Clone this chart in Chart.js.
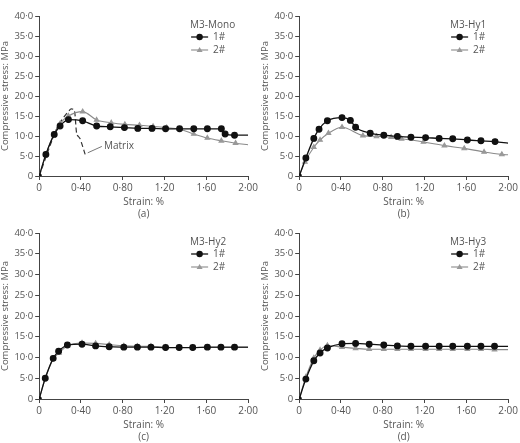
<!DOCTYPE html>
<html>
<head>
<meta charset="utf-8">
<script src="https://cdn.jsdelivr.net/npm/chart.js@4.4.1/dist/chart.umd.min.js"></script>
<style>
  body { margin: 0; background: #fff; }
  .panel { position: absolute; width: 260px; }
  .panel canvas { display: block; }
</style>
</head>
<body>
<div class="panel" style="left:0;top:0;height:220px"><canvas id="ca"></canvas></div>
<div class="panel" style="left:260px;top:0;height:220px"><canvas id="cb"></canvas></div>
<div class="panel" style="left:0;top:220px;height:223px"><canvas id="cc"></canvas></div>
<div class="panel" style="left:260px;top:220px;height:223px"><canvas id="cd"></canvas></div>
<script>
// panel names and captions
var panelNames = ["M3-Mono", "M3-Hy1", "M3-Hy2", "M3-Hy3"];
var panelCaps = ["(a)", "(b)", "(c)", "(d)"];
var seriesLabels = ["1#", "2#"];

// (a) M3-Mono
var monoX1 = [0, 0.064, 0.144, 0.2, 0.28, 0.416, 0.55, 0.68, 0.816, 0.944, 1.08, 1.21, 1.344, 1.48, 1.61, 1.744, 1.78, 1.87, 2.0];
var monoY1 = [0, 5.4, 10.4, 12.5, 14.1, 13.8, 12.5, 12.3, 12.1, 11.9, 11.9, 11.8, 11.8, 11.8, 11.8, 11.8, 10.5, 10.2, 10.2];
var monoX2 = [0, 0.064, 0.14, 0.2, 0.28, 0.416, 0.55, 0.69, 0.82, 0.96, 1.09, 1.22, 1.344, 1.48, 1.61, 1.744, 1.88, 2.0];
var monoY2 = [0, 5.4, 10.4, 13.1, 15.0, 16.1, 14.0, 13.3, 12.9, 12.7, 12.4, 12.1, 11.7, 10.5, 9.5, 8.8, 8.2, 7.8];
var matrixX = [0, 0.176, 0.3, 0.336, 0.36, 0.39, 0.44];
var matrixY = [0, 12.3, 16.7, 16.5, 10.4, 9.4, 5.4];

// (b) M3-Hy1
var hy1X1 = [0, 0.064, 0.14, 0.19, 0.27, 0.41, 0.49, 0.54, 0.68, 0.81, 0.94, 1.07, 1.21, 1.34, 1.47, 1.61, 1.74, 1.875, 2.0];
var hy1Y1 = [0, 4.5, 9.4, 11.7, 13.8, 14.6, 13.9, 12.2, 10.7, 10.2, 9.9, 9.7, 9.6, 9.4, 9.3, 9.0, 8.8, 8.6, 8.2];
var hy1X2 = [0, 0.055, 0.14, 0.2, 0.28, 0.41, 0.61, 0.74, 0.88, 0.98, 1.19, 1.39, 1.58, 1.77, 1.94, 2.0];
var hy1Y2 = [0, 3.5, 7.2, 9.0, 10.7, 12.2, 10.1, 9.9, 9.7, 9.3, 8.5, 7.6, 6.9, 6.0, 5.4, 5.3];

// (c) M3-Hy2
var hy2X1 = [0, 0.058, 0.134, 0.186, 0.27, 0.41, 0.54, 0.67, 0.81, 0.94, 1.07, 1.21, 1.34, 1.47, 1.61, 1.74, 1.87, 2.0];
var hy2Y1 = [0, 5.0, 9.8, 11.5, 13.0, 13.2, 12.8, 12.6, 12.5, 12.5, 12.5, 12.4, 12.4, 12.4, 12.5, 12.5, 12.5, 12.5];
var hy2X2 = [0, 0.058, 0.134, 0.19, 0.27, 0.41, 0.54, 0.67, 0.81, 0.94, 1.07, 1.21, 1.34, 1.47, 1.61, 1.74, 1.87, 2.0];
var hy2Y2 = [0, 5.0, 9.6, 11.1, 12.8, 13.5, 13.4, 13.1, 12.8, 12.7, 12.7, 12.5, 12.4, 12.4, 12.4, 12.4, 12.4, 12.4];

// (d) M3-Hy3
var hy3X1 = [0, 0.064, 0.14, 0.2, 0.27, 0.41, 0.54, 0.67, 0.81, 0.94, 1.07, 1.21, 1.34, 1.47, 1.61, 1.74, 1.87, 2.0];
var hy3Y1 = [0, 4.8, 9.2, 11.1, 12.3, 13.3, 13.4, 13.2, 13.0, 12.8, 12.7, 12.7, 12.7, 12.7, 12.7, 12.7, 12.7, 12.7];
var hy3X2 = [0, 0.064, 0.14, 0.2, 0.27, 0.41, 0.54, 0.67, 0.81, 0.94, 1.07, 1.21, 1.34, 1.47, 1.61, 1.74, 1.87, 2.0];
var hy3Y2 = [0, 5.3, 9.9, 11.8, 12.9, 12.5, 12.2, 12.0, 12.0, 12.0, 12.0, 12.0, 12.0, 12.0, 12.0, 12.0, 11.9, 11.9];

var FONT = "'Open Sans', 'DejaVu Sans', sans-serif";
var TXT = "#555";

function pts(xs, ys) {
  return xs.map(function (x, i) { return { x: x, y: ys[i] }; });
}

// legend drawn inside the plot, top right
const innerLegend = {
  id: "innerLegend",
  afterDraw: (chart, args, opts) => {
    const { ctx, chartArea } = chart;
    const r = chartArea.right, t = chartArea.top;
    ctx.save();
    ctx.font = "10px " + FONT;
    ctx.fillStyle = TXT;
    ctx.textBaseline = "middle";
    ctx.fillText(opts.title, r - 58, t + 9);
    [0, 1].forEach(function (i) {
      const y = t + 21 + i * 13;
      const ds = chart.data.datasets[i];
      ctx.strokeStyle = ds.borderColor;
      ctx.lineWidth = ds.borderWidth;
      ctx.beginPath(); ctx.moveTo(r - 57, y); ctx.lineTo(r - 40, y); ctx.stroke();
      ctx.fillStyle = ds.pointBackgroundColor;
      ctx.beginPath();
      if (i === 0) { ctx.arc(r - 48.5, y, 3.2, 0, Math.PI * 2); }
      else { ctx.moveTo(r - 48.5, y - 3); ctx.lineTo(r - 45.5, y + 2); ctx.lineTo(r - 51.5, y + 2); ctx.closePath(); }
      ctx.fill();
      ctx.fillStyle = TXT;
      ctx.fillText(seriesLabels[i], r - 35, y);
    });
    // "Matrix" callout
    if (opts.matrix) {
      const xs = chart.scales.x, ys = chart.scales.y;
      ctx.strokeStyle = "#555"; ctx.lineWidth = 0.8;
      ctx.beginPath();
      ctx.moveTo(xs.getPixelForValue(0.465), ys.getPixelForValue(5.8));
      ctx.lineTo(xs.getPixelForValue(0.6), ys.getPixelForValue(7.4));
      ctx.stroke();
      ctx.fillStyle = TXT;
      ctx.fillText("Matrix", xs.getPixelForValue(0.62), ys.getPixelForValue(7.4));
    }
    ctx.restore();
  }
};

function makeChart(id, idx, s1, s2, extra) {
  var datasets = [
    {
      label: seriesLabels[0], data: s1,
      borderColor: "#111", borderWidth: 1.3, pointBackgroundColor: "#111",
      pointBorderColor: "#111", pointStyle: "circle",
      pointRadius: s1.map(function (p, i) { return i === 0 ? 2 : (i === s1.length - 1 ? 0 : 2.8); }),
      cubicInterpolationMode: "monotone", order: 1
    },
    {
      label: seriesLabels[1], data: s2,
      borderColor: "#8a8a8a", borderWidth: 1.1, pointBackgroundColor: "#999",
      pointBorderColor: "#999", pointStyle: "triangle",
      pointRadius: s2.map(function (p, i) { return (i === 0 || i === s2.length - 1) ? 0 : 2.6; }),
      cubicInterpolationMode: "monotone", order: 2
    }
  ];
  if (extra) datasets.push(extra);
  return new Chart(document.getElementById(id), {
    type: "line",
    data: { datasets: datasets },
    options: {
      responsive: true, maintainAspectRatio: false, animation: false,
      layout: { padding: { top: idx < 2 ? 16 : 13, right: 8, left: 0, bottom: 0 } },
      plugins: {
        legend: { display: false }, tooltip: { enabled: false },
        innerLegend: { title: panelNames[idx], matrix: !!extra }
      },
      scales: {
        x: {
          type: "linear", min: 0, max: 2,
          border: { color: "#444", width: 1 },
          grid: { drawOnChartArea: false, tickLength: 4, color: "#444" },
          ticks: {
            stepSize: 0.2, color: TXT, font: { size: 10, family: FONT }, maxRotation: 0, padding: 2,
            callback: function (v) {
              var k = Math.round(v * 10);
              if (k === 0) return "0";
              if (k % 4 !== 0) return "";
              return v.toFixed(2).replace(".", "·");
            }
          },
          title: { display: true, text: ["Strain: %", panelCaps[idx]], color: TXT, font: { size: 10, family: FONT }, padding: { top: 0, bottom: 0 } }
        },
        y: {
          min: 0, max: 40,
          border: { color: "#444", width: 1 },
          grid: { drawOnChartArea: false, tickLength: 4, color: "#444" },
          ticks: {
            stepSize: 5, color: TXT, font: { size: 9.5, family: FONT }, padding: 2,
            callback: function (v) { return v === 0 ? "0" : v.toFixed(1).replace(".", "·"); }
          },
          title: { display: true, text: "Compressive stress: MPa", color: TXT, font: { size: 9.5, family: FONT }, padding: { top: 0, bottom: 1 } }
        }
      }
    },
    plugins: [innerLegend]
  });
}

makeChart("ca", 0, pts(monoX1, monoY1), pts(monoX2, monoY2), {
  label: "Matrix", data: pts(matrixX, matrixY),
  borderColor: "#333", borderWidth: 1.2, borderDash: [5, 3],
  pointRadius: 0, tension: 0.25, order: 3
});
makeChart("cb", 1, pts(hy1X1, hy1Y1), pts(hy1X2, hy1Y2));
makeChart("cc", 2, pts(hy2X1, hy2Y1), pts(hy2X2, hy2Y2));
makeChart("cd", 3, pts(hy3X1, hy3Y1), pts(hy3X2, hy3Y2));
</script>
</body>
</html>
